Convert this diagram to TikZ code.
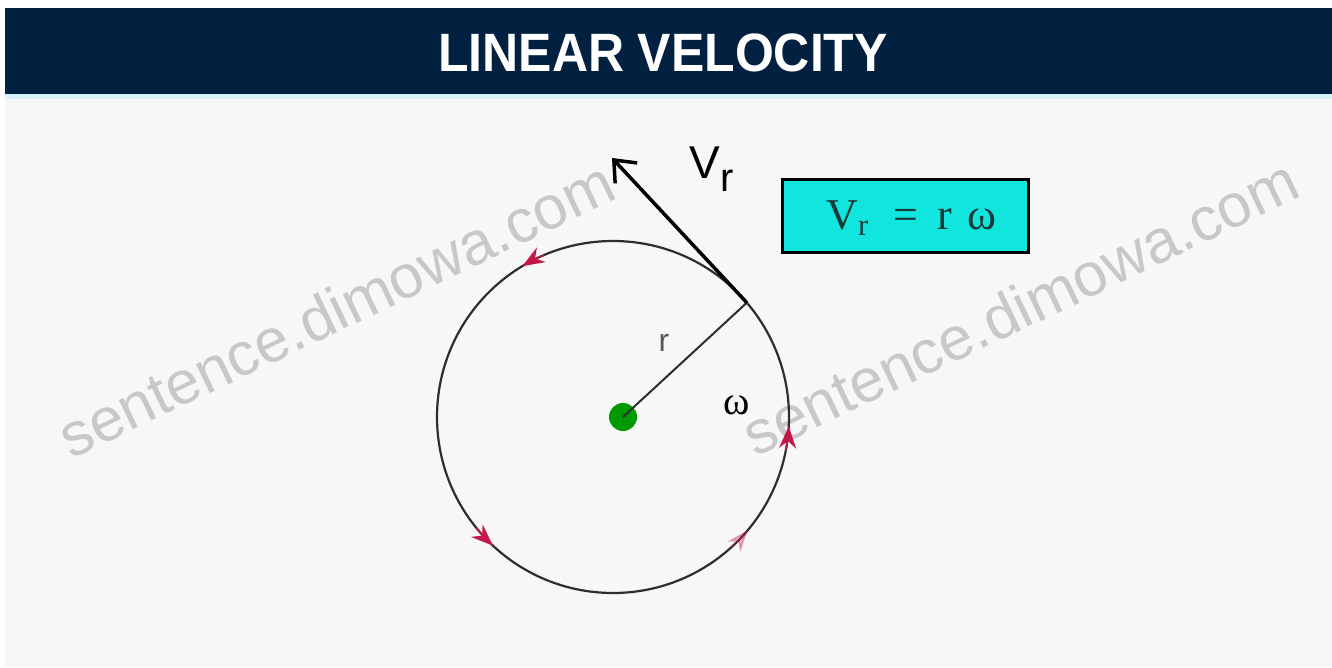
\documentclass[tikz,border=0pt]{standalone}
\usepackage{fontspec}
\setmainfont{Liberation Sans}
\newfontfamily\serifface{Liberation Serif}
\usetikzlibrary{arrows.meta,calc}
\definecolor{navy}{HTML}{022140}
\definecolor{bggray}{HTML}{F7F7F7}
\definecolor{strip}{HTML}{D6F3FB}
\definecolor{tipred}{HTML}{C41848}
\definecolor{boxcyan}{HTML}{10E6DE}
\definecolor{wmgray}{HTML}{C8C8C8}
\definecolor{circgray}{HTML}{2E2E2E}
\definecolor{formtext}{HTML}{1A3A3A}
\tikzset{
  wmark/.style={text=wmgray, font=\fontsize{61}{61}\selectfont, rotate=25.5, inner sep=0pt},
  redtip/.style={tipred, line width=1.6pt, -{Stealth[length=22pt,width=17pt]}},
  circline/.style={circgray, line width=2.2pt},
}
\begin{document}
\begin{tikzpicture}[x=1pt,y=1pt]
\useasboundingbox (0,0) rectangle (1332,667);
\fill[white] (0,0) rectangle (1332,667);
\fill[bggray] (5,0) rectangle (1332,568);
\fill[strip] (5,568) rectangle (1332,573);
\fill[navy] (5,573) rectangle (1332,659);
\node[text=white, font=\bfseries\fontsize{54}{54}\selectfont, xscale=0.925] (title) at (663,614) {LINEAR VELOCITY};
% watermarks
\node[wmark] (wm1) at (336,358) {sentence.dimowa.com};
\node[wmark] (wm2) at (1020,360) {sentence.dimowa.com};
% circle
\coordinate (C) at (613,250);
\def\R{176}
\draw[circline] (C) circle (\R);
\coordinate (P) at ($(C)+(40.5:\R)$);
\coordinate (T) at (612,509);
% rotation arrows
\draw[redtip] ($(C)+(113:\R)$) arc (113:121:\R);
\draw[redtip] ($(C)+(219:\R)$) arc (219:227:\R);
\draw[redtip] ($(C)+(-11:\R)$) arc (-11:-3:\R);
\draw[redtip, opacity=0.3] ($(C)+(-48:\R)$) arc (-48:-40:\R);
% center and radius
\node[circle, fill=green!60!black, minimum size=28pt, inner sep=0pt] (D) at (623,250) {};
\draw[circgray, line width=2pt] (D.center) -- (P);
\node[text=circgray!80, font=\fontsize{32}{32}\selectfont] (rl) at (664,324) {r};
\node[font=\serifface\fontsize{40}{40}\selectfont] (om) at (737,262) {ω};
% velocity
\draw[black, line width=3.5pt, -{Straight Barb[length=18pt,width=30pt,line width=3.5pt]}] (P) -- (T);
\node[font=\fontsize{46}{46}\selectfont] (vr) at (712,498) {V\textsubscript{\fontsize{40}{40}\selectfont r}};
% formula box
\node[draw=black, line width=2.5pt, fill=boxcyan, minimum width=246pt, minimum height=73pt, inner sep=0pt] (box) at (905.5,451) {};
\node[text=formtext, font=\serifface\fontsize{44}{44}\selectfont, inner sep=0pt] (formula) at ([xshift=6pt,yshift=-2pt]box.center) {V\textsubscript{r}\hspace{0.55em}=\hspace{0.45em}r\hspace{0.35em}ω};
\end{tikzpicture}
\end{document}
